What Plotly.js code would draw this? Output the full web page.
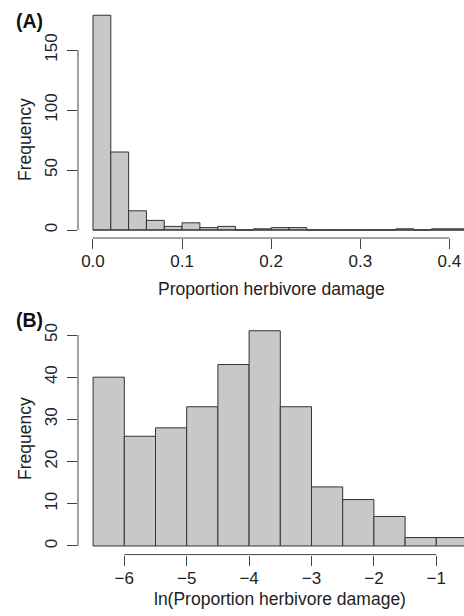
<!DOCTYPE html>
<html>
<head>
<meta charset="utf-8">
<script src="https://cdn.plot.ly/plotly-3.0.1.min.js"></script>
<style>html,body{margin:0;padding:0;background:#fff;}#chart{width:464px;height:616px;}</style>
</head>
<body>
<div id="chart"></div>
<script>
// Panel A: proportion herbivore damage (bin edges, width 0.02)
var binEdgesA = [0.00,0.02,0.04,0.06,0.08,0.10,0.12,0.14,0.16,0.18,0.20,0.22,0.24,0.26,0.28,0.30,0.32,0.34,0.36,0.38,0.40,0.42];
var countsA   = [179,65,16,8,3,6,2,3,0,1,2,2,0,0,0,0,0,1,0,1,1];
var xTicksA   = [0,0.1,0.2,0.3,0.4];
var xLabelsA  = ['0.0','0.1','0.2','0.3','0.4'];
var yTicksA   = [0,50,100,150];

// Panel B: ln(proportion herbivore damage) (bin edges, width 0.5)
var binEdgesB = [-6.5,-6.0,-5.5,-5.0,-4.5,-4.0,-3.5,-3.0,-2.5,-2.0,-1.5,-1.0,-0.5];
var countsB   = [40,26,28,33,43,51,33,14,11,7,2,2];
var xTicksB   = [-6,-5,-4,-3,-2,-1];
var xLabelsB  = ['\u22126','\u22125','\u22124','\u22123','\u22122','\u22121'];
var yTicksB   = [0,10,20,30,40,50];

var titleA = 'Proportion herbivore damage';
var titleB = 'ln(Proportion herbivore damage)';
var yTitle = 'Frequency';
var panelA = '(A)', panelB = '(B)';

function histTrace(edges, counts, xa, ya) {
  var x = [], w = [];
  for (var i = 0; i < counts.length; i++) {
    x.push((edges[i] + edges[i + 1]) / 2);
    w.push(edges[i + 1] - edges[i]);
  }
  return {
    type: 'bar', x: x, y: counts, width: w, xaxis: xa, yaxis: ya,
    marker: {color: '#c7c8ca', line: {color: '#333333', width: 1}},
    hoverinfo: 'skip', showlegend: false
  };
}

var W = 464, H = 616;
var FONT = 'Liberation Sans, Arial, Helvetica, sans-serif';
var axColor = '#444444';
var txtColor = '#222222';

function xAxis(ticks, labels, range, domain, anchor) {
  return {
    domain: domain, range: range, anchor: anchor, tickmode: 'array',
    tickvals: ticks, ticktext: labels, ticks: 'outside', ticklen: 10,
    tickwidth: 1, tickcolor: axColor, showline: false, showgrid: false,
    zeroline: false, fixedrange: true, ticklabelstandoff: -2,
    tickfont: {family: FONT, size: 17, color: txtColor}
  };
}
function yAxis(ticks, range, domain, anchor) {
  return {
    domain: domain, range: range, anchor: anchor, tickmode: 'array',
    tickvals: ticks, ticktext: ticks.map(String), ticks: 'outside', ticklen: 10,
    tickwidth: 1, tickcolor: axColor, showline: false, showgrid: false,
    zeroline: false, fixedrange: true, tickangle: -90, ticklabelstandoff: 3,
    tickfont: {family: FONT, size: 17, color: txtColor}
  };
}

var xDom = [78 / W, 1];
var layout = {
  width: W, height: H,
  margin: {l: 0, r: 0, t: 0, b: 0, pad: 0},
  paper_bgcolor: '#ffffff', plot_bgcolor: '#ffffff',
  font: {family: FONT, color: txtColor},
  xaxis: xAxis(xTicksA, xLabelsA, [-0.0168, 0.4164], xDom, 'y'),
  yaxis: yAxis(yTicksA, [-6.67, 186.7], [1 - 238 / H, 1 - 6 / H], 'x'),
  xaxis2: xAxis(xTicksB, xLabelsB, [-6.742, -0.556], xDom, 'y2'),
  yaxis2: yAxis(yTicksB, [-2.04, 53.08], [1 - 554.6 / H, 1 - 322 / H], 'x2'),
  shapes: [
    // R-style axis lines spanning first to last tick
    {type: 'line', xref: 'x', yref: 'y domain', x0: xTicksA[0], x1: xTicksA[xTicksA.length - 1], y0: 0, y1: 0, line: {color: axColor, width: 1}},
    {type: 'line', xref: 'x domain', yref: 'y', x0: 0, x1: 0, y0: yTicksA[0], y1: yTicksA[yTicksA.length - 1], line: {color: axColor, width: 1}},
    {type: 'line', xref: 'x2', yref: 'y2 domain', x0: xTicksB[0], x1: xTicksB[xTicksB.length - 1], y0: 0, y1: 0, line: {color: axColor, width: 1}},
    {type: 'line', xref: 'x2 domain', yref: 'y2', x0: 0, x1: 0, y0: yTicksB[0], y1: yTicksB[yTicksB.length - 1], line: {color: axColor, width: 1}},
    // baseline for empty bins
    {type: 'line', xref: 'x', yref: 'y', x0: binEdgesA[0], x1: binEdgesA[binEdgesA.length - 1], y0: 0, y1: 0, line: {color: '#333333', width: 1}}
  ],
  annotations: [
    {text: titleA, xref: 'paper', yref: 'paper', x: 271 / W, y: 1 - 289 / H, xanchor: 'center', yanchor: 'middle', showarrow: false, font: {family: FONT, size: 17.5, color: txtColor}},
    {text: titleB, xref: 'paper', yref: 'paper', x: 280 / W, y: 1 - 599 / H, xanchor: 'center', yanchor: 'middle', showarrow: false, font: {family: FONT, size: 17.5, color: txtColor}},
    {text: yTitle, xref: 'paper', yref: 'paper', x: 25 / W, y: 1 - 140 / H, xanchor: 'center', yanchor: 'middle', textangle: -90, showarrow: false, font: {family: FONT, size: 17.5, color: txtColor}},
    {text: yTitle, xref: 'paper', yref: 'paper', x: 25 / W, y: 1 - 439 / H, xanchor: 'center', yanchor: 'middle', textangle: -90, showarrow: false, font: {family: FONT, size: 17.5, color: txtColor}},
    {text: '<b>' + panelA + '</b>', xref: 'paper', yref: 'paper', x: 29.5 / W, y: 1 - 21.5 / H, xanchor: 'center', yanchor: 'middle', showarrow: false, font: {family: FONT, size: 19.5, color: '#111111'}},
    {text: '<b>' + panelB + '</b>', xref: 'paper', yref: 'paper', x: 29.5 / W, y: 1 - 319.5 / H, xanchor: 'center', yanchor: 'middle', showarrow: false, font: {family: FONT, size: 19.5, color: '#111111'}}
  ]
};

var data = [
  histTrace(binEdgesA, countsA, 'x', 'y'),
  histTrace(binEdgesB, countsB, 'x2', 'y2')
];

Plotly.newPlot('chart', data, layout, {displayModeBar: false, staticPlot: true});
</script>
</body>
</html>
